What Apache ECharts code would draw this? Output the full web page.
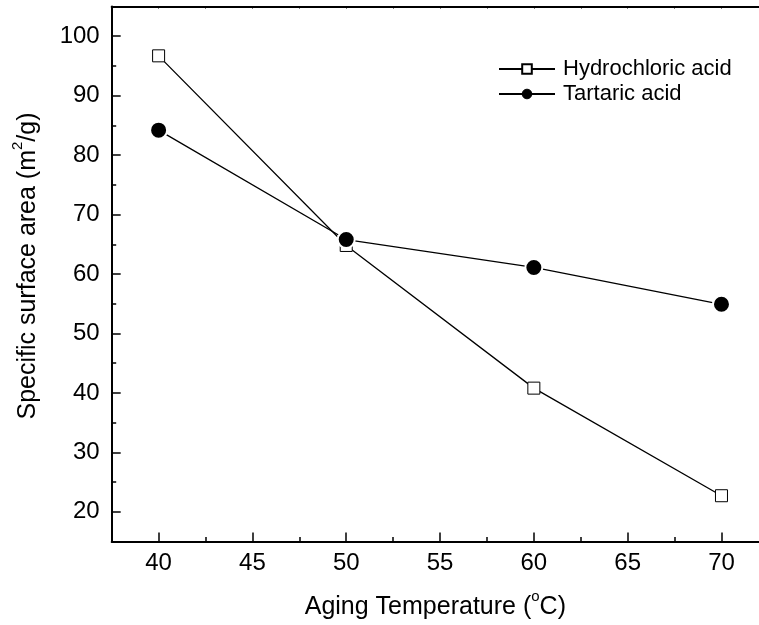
<!DOCTYPE html>
<html>
<head>
<meta charset="utf-8">
<title>Specific surface area vs aging temperature</title>
<script src="https://cdn.jsdelivr.net/npm/echarts@6/dist/echarts.min.js"></script>
<style>
    html, body { margin: 0; padding: 0; background: #fff; }
    #chart { width: 759px; height: 625px; }
</style>
</head>
<body>
<div id="chart"></div>
<script>

// Data
// ------------------------------

var temperatures = [40, 50, 60, 70];
var hydrochloric = [96.7, 64.8, 40.8, 22.7];
var tartaric = [84.2, 65.8, 61.1, 54.9];

var xMajorTicks = [40, 45, 50, 55, 60, 65, 70];
var xMinorTicks = [42.5, 47.5, 52.5, 57.5, 62.5, 67.5];
var yMajorTicks = [20, 30, 40, 50, 60, 70, 80, 90, 100];
var yMinorTicks = [25, 35, 45, 55, 65, 75, 85, 95];


// Setup chart
// ------------------------------

var chart_element = document.getElementById('chart');
var chart = echarts.init(chart_element, null, { renderer: 'canvas' });

var fontFamily = '"Liberation Sans", Arial, sans-serif';

var pairs = function(xs, ys) {
    return xs.map(function(x, i) { return [x, ys[i]]; });
};

// Common axis styles
var axisLine = { show: true, lineStyle: { color: '#000', width: 2 } };
var supRich = {
    t: { fontSize: 25, color: '#000', verticalAlign: 'middle' },
    sup: { fontSize: 15, color: '#000', verticalAlign: 'middle', padding: [0, 0, 20, 0] }
};

chart.setOption({

    animation: false,

    textStyle: {
        fontFamily: fontFamily,
        color: '#000'
    },

    grid: {
        left: 111.7,
        right: -1.3,
        top: 6.5,
        bottom: 83.5
    },

    legend: {
        orient: 'vertical',
        left: 498,
        top: 58,
        padding: 0,
        itemWidth: 56,
        itemHeight: 12,
        itemGap: 3,
        data: [
            { name: 'Hydrochloric acid' },
            { name: 'Tartaric acid', itemStyle: { borderColor: '#000', borderWidth: 1 } }
        ],
        textStyle: {
            fontSize: 22,
            lineHeight: 22,
            color: '#000',
            fontFamily: fontFamily,
            padding: [0, 0, 0, 3]
        }
    },

    xAxis: [
        {
            type: 'value',
            min: 37.5,
            max: 72,
            position: 'bottom',
            name: '{t|Aging Temperature (}{sup|o}{t|C)}',
            nameLocation: 'middle',
            nameGap: 48,
            nameTextStyle: { fontSize: 25, color: '#000', rich: supRich },
            axisLine: axisLine,
            axisTick: { inside: true, length: 9, lineStyle: { color: '#000', width: 1.5 }, customValues: xMajorTicks },
            axisLabel: { fontSize: 24, color: '#000', margin: 10, customValues: xMajorTicks },
            splitLine: { show: false }
        },
        {
            type: 'value',
            min: 37.5,
            max: 72,
            position: 'bottom',
            axisLine: { show: false },
            axisTick: { inside: true, length: 4.5, lineStyle: { color: '#000', width: 1.5 }, customValues: xMinorTicks },
            axisLabel: { show: false },
            splitLine: { show: false }
        },
        {
            type: 'value',
            min: 37.5,
            max: 72,
            position: 'top',
            axisLine: axisLine,
            axisTick: { inside: true, length: 2, lineStyle: { color: '#000', width: 1 }, customValues: xMajorTicks.concat(xMinorTicks) },
            axisLabel: { show: false },
            splitLine: { show: false }
        }
    ],

    yAxis: [
        {
            type: 'value',
            min: 15,
            max: 105,
            position: 'left',
            name: '{t|Specific surface area (m}{sup|2}{t|/g)}',
            nameLocation: 'middle',
            nameGap: 66,
            nameTextStyle: { fontSize: 25, color: '#000', rich: supRich, padding: [0, 0, 0, 16] },
            axisLine: axisLine,
            axisTick: { inside: true, length: 9, lineStyle: { color: '#000', width: 1.5 }, customValues: yMajorTicks },
            axisLabel: { fontSize: 24, color: '#000', margin: 12, customValues: yMajorTicks },
            splitLine: { show: false }
        },
        {
            type: 'value',
            min: 15,
            max: 105,
            position: 'left',
            axisLine: { show: false },
            axisTick: { inside: true, length: 4.5, lineStyle: { color: '#000', width: 1.5 }, customValues: yMinorTicks },
            axisLabel: { show: false },
            splitLine: { show: false }
        }
    ],

    series: [
        {
            name: 'Hydrochloric acid',
            type: 'line',
            data: pairs(temperatures, hydrochloric),
            symbol: 'rect',
            symbolSize: 12,
            showAllSymbol: true,
            lineStyle: { color: '#000', width: 1.3 },
            itemStyle: { color: '#fff', borderColor: '#000', borderWidth: 1 },
            z: 2
        },
        {
            name: 'Tartaric acid',
            type: 'line',
            data: pairs(temperatures, tartaric),
            symbol: 'circle',
            symbolSize: 17,
            showAllSymbol: true,
            lineStyle: { color: '#000', width: 1.3 },
            itemStyle: { color: '#000', borderColor: '#fff', borderWidth: 2 },
            z: 3
        }
    ]
});

</script>
</body>
</html>
